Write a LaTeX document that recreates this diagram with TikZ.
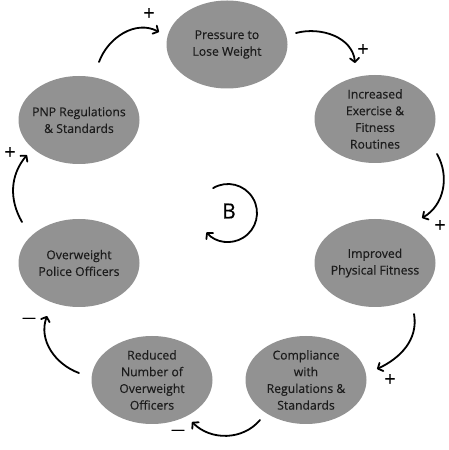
\documentclass[tikz,border=0pt]{standalone}
\usepackage{fontspec}
\setmainfont{Open Sans}
\newfontface\medfont{Open Sans}[FakeBold=0.35]
\usetikzlibrary{arrows.meta,shapes.geometric}
\definecolor{ellfill}{RGB}{146,146,146}
\definecolor{txt}{RGB}{28,28,28}
\begin{document}
\begin{tikzpicture}[x=1pt,y=1pt,
  ell/.style={ellipse, fill=ellfill, minimum width=121pt, minimum height=88pt, inner sep=0pt},
  lbl/.style={align=center, font=\medfont\fontsize{12.2}{16.7}\selectfont, text=txt, inner sep=0pt},
  arr/.style={line width=1.8pt, line cap=round, -{Straight Barb[length=4pt,width=9pt,round]}},
  sign/.style={font=\medfont\fontsize{20}{20}\selectfont, text=black, inner sep=0pt},
  msign/.style={font=\medfont\fontsize{14}{14}\selectfont, text=black, inner sep=0pt}]
\useasboundingbox (0,0) rectangle (449,450);
% ellipses
\node[ell, label={[lbl]center:Pressure to\\Lose Weight}] (pres) at (227,405.5) {};
\node[ell, label={[lbl]center:Increased\\Exercise \&\\Fitness\\Routines}] (incr) at (375,331) {};
\node[ell, label={[lbl]center:PNP Regulations\\\& Standards}] (pnp) at (79,330) {};
\node[ell, label={[lbl]center:Improved\\Physical Fitness}] (impr) at (375,187) {};
\node[ell, label={[lbl]center:Overweight\\Police Officers}] (over) at (79,187) {};
\node[ell, label={[lbl]center:Compliance\\with\\Regulations \&\\Standards}] (comp) at (306,70) {};
\node[ell, label={[lbl]center:Reduced\\Number of\\Overweight\\Officers}] (red) at (152,70) {};
% connector end points
\coordinate (s1) at (99,388);  \coordinate (e1) at (159,418);
\coordinate (s2) at (296,417); \coordinate (e2) at (355,387);
\coordinate (s3) at (437,296); \coordinate (e3) at (422,232);
\coordinate (s4) at (414,136); \coordinate (e4) at (377,81);
\coordinate (s5) at (260,30);  \coordinate (e5) at (192,28);
\coordinate (s6) at (79,77);   \coordinate (e6) at (47,134);
\coordinate (s7) at (22,228);  \coordinate (e7) at (27,295);
\draw[arr] (s1) to[out=70,in=152] (e1);
\draw[arr] (s2) to[out=15,in=95] (e2);
\draw[arr] (s3) to[out=-60,in=30] (e3);
\draw[arr] (s4) to[out=-80,in=25] (e4);
\draw[arr] (s5) to[out=230,in=-45] (e5);
\draw[arr] (s6) to[out=160,in=-110] (e6);
\draw[arr] (s7) to[out=120,in=-130] (e7);
% signs
\node[sign] (p1) at (149,436) {+};
\node[sign] (p2) at (363,400) {+};
\node[sign] (p3) at (440,224) {+};
\node[sign] (p4) at (390,70) {+};
\node[msign] (m5) at (178,18) {—};
\node[msign] (m6) at (29,130) {—};
\node[sign] (p7) at (10,297) {+};
% balancing loop
\node[font=\medfont\fontsize{21}{21}\selectfont, inner sep=0pt] (bl) at (229,239) {B};
\coordinate (bs) at (213.06,261.86);
\draw[arr] (bs) arc[start angle=121, end angle=-138, radius=29];
\end{tikzpicture}
\end{document}
